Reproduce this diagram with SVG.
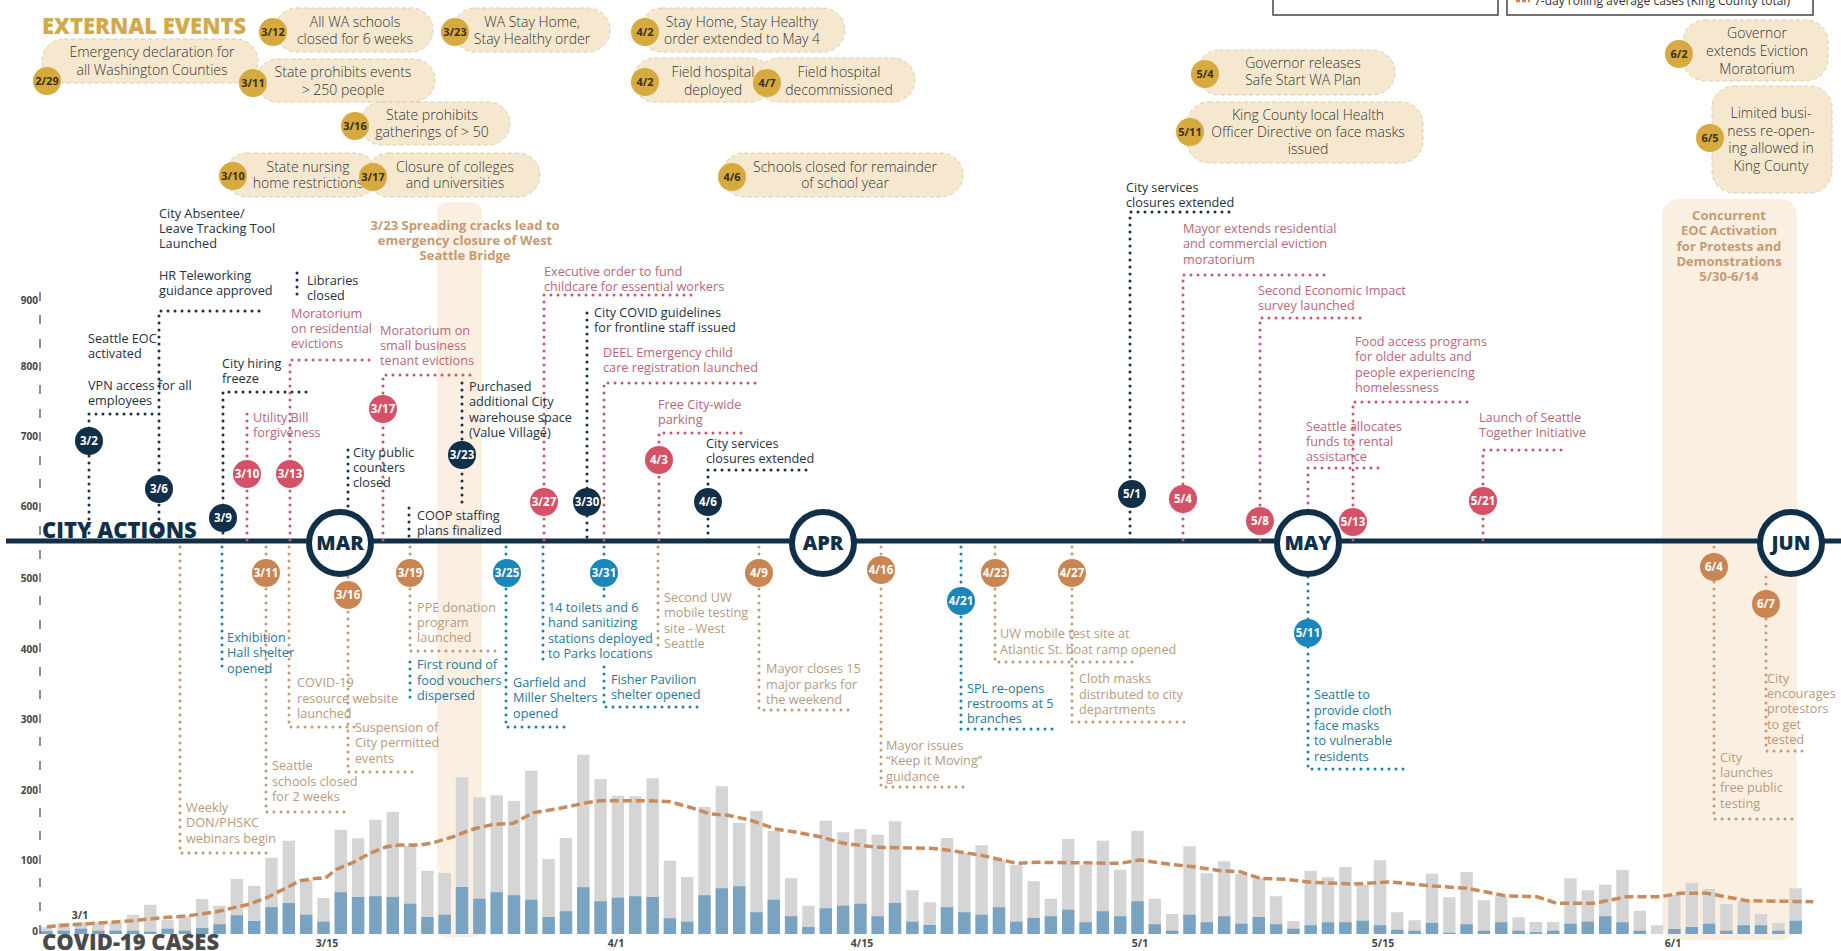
<svg xmlns="http://www.w3.org/2000/svg" width="1841" height="951" viewBox="0 0 1841 951">
<style>
text{font-family:"Open Sans","Liberation Sans",sans-serif}
.pill{fill:#f6e8cf;stroke:#d8ccb2;stroke-width:1;stroke-dasharray:4 3}
.gold{fill:#d6aa3e}
.gd{font-family:"Liberation Sans Narrow","Open Sans",sans-serif;font-weight:700;font-size:11px;fill:#3b2f1c;text-anchor:middle}
.pt{font-size:14px;font-weight:300;fill:#333;text-anchor:middle}
.hd{font-weight:800;font-size:22px}
.band{fill:#fbefe2}
.bt{font-weight:700;font-size:13px;fill:#c69a72;text-anchor:middle}
.dl{fill:none;stroke-width:3;stroke-dasharray:0 7;stroke-linecap:round}
.dn{stroke:#14304a}.dp{stroke:#c9566c}.dt{stroke:#1f80aa}.do{stroke:#c49a74}
.lb{font-size:12.7px}
.tn{fill:#25313d}.tp{fill:#b7677a}.tt{fill:#237a98}.to{fill:#b89a7c}
.cn{fill:#10304a}.cp{fill:#d45168}.ct{fill:#1a86b9}.co{fill:#c98652}
.cd{font-family:"Liberation Sans Narrow","Open Sans",sans-serif;font-weight:700;font-size:11.5px;fill:#fff;text-anchor:middle}
.mon{fill:#fff;stroke:#10304a;stroke-width:6}
.mt{font-weight:800;font-size:20px;fill:#10304a;text-anchor:middle}
.ax{font-weight:700;font-size:10px;fill:#444;text-anchor:end}
.dx{font-weight:700;font-size:10.5px;fill:#444;text-anchor:middle}
</style>
<rect width="1841" height="951" fill="#fff"/>

<!-- background bands -->
<g id="bands">
<rect class="band" x="437" y="202" width="45" height="735" rx="9"/>
<rect class="band" x="1662" y="199" width="135" height="741" rx="16"/>
</g>

<!-- legend (cut off at top) -->
<g id="legend">
<rect x="1273" y="-10" width="225" height="25" fill="none" stroke="#444" stroke-width="1.5"/>
<rect x="1507" y="-10" width="306" height="25" fill="none" stroke="#444" stroke-width="1.5"/>
<line x1="1516" y1="1" x2="1530" y2="1" stroke="#c98b5c" stroke-width="2.5" stroke-dasharray="4 2"/>
<text x="1534" y="5" font-size="12" fill="#333">7-day rolling average cases (King County total)</text>
</g>

<!-- case chart -->
<g id="chart">
<path fill="#d5d5d5" d="M40.2 934V927.3h12.4V934ZM57.5 934V923h12.4V934ZM74.8 934V922.3h12.4V934ZM92.1 934V922.3h12.4V934ZM109.4 934V922.3h12.4V934ZM126.8 934V914.7h12.4V934ZM144.1 934V904.7h12.4V934ZM161.4 934V919.7h12.4V934ZM178.7 934V916.3h12.4V934ZM196 934V899h12.4V934ZM213.4 934V905.7h12.4V934ZM230.7 934V879h12.4V934ZM248 934V885.7h12.4V934ZM265.3 934V857.7h12.4V934ZM282.6 934V840.7h12.4V934ZM300 934V879.7h12.4V934ZM317.3 934V898h12.4V934ZM334.6 934V829.7h12.4V934ZM351.9 934V838.3h12.4V934ZM369.2 934V819.7h12.4V934ZM386.6 934V811.7h12.4V934ZM403.9 934V845.7h12.4V934ZM421.2 934V870.7h12.4V934ZM438.5 934V873h12.4V934ZM455.8 934V777.3h12.4V934ZM473.2 934V797.3h12.4V934ZM490.5 934V795.3h12.4V934ZM507.8 934V800.7h12.4V934ZM525.1 934V770.7h12.4V934ZM542.4 934V859h12.4V934ZM559.8 934V838h12.4V934ZM577.1 934V754.7h12.4V934ZM594.4 934V779h12.4V934ZM611.7 934V795.7h12.4V934ZM629 934V796.3h12.4V934ZM646.4 934V778.3h12.4V934ZM663.7 934V860.7h12.4V934ZM681 934V877h12.4V934ZM698.3 934V807h12.4V934ZM715.6 934V786.3h12.4V934ZM733 934V823h12.4V934ZM750.3 934V811h12.4V934ZM767.6 934V831h12.4V934ZM784.9 934V878.3h12.4V934ZM802.2 934V905.7h12.4V934ZM819.6 934V820.7h12.4V934ZM836.9 934V832.3h12.4V934ZM854.2 934V829h12.4V934ZM871.5 934V834.7h12.4V934ZM888.8 934V821.3h12.4V934ZM906.2 934V890.3h12.4V934ZM923.5 934V902.3h12.4V934ZM940.8 934V838h12.4V934ZM958.1 934V853h12.4V934ZM975.4 934V845.3h12.4V934ZM992.8 934V859.7h12.4V934ZM1010.1 934V865h12.4V934ZM1027.4 934V881.3h12.4V934ZM1044.7 934V898.7h12.4V934ZM1062 934V839h12.4V934ZM1079.4 934V864.7h12.4V934ZM1096.7 934V840.7h12.4V934ZM1114 934V869.7h12.4V934ZM1131.3 934V830.7h12.4V934ZM1148.6 934V898.7h12.4V934ZM1166 934V914h12.4V934ZM1183.3 934V846.3h12.4V934ZM1200.6 934V873.3h12.4V934ZM1217.9 934V861.3h12.4V934ZM1235.2 934V874h12.4V934ZM1252.6 934V878h12.4V934ZM1269.9 934V896.3h12.4V934ZM1287.2 934V921h12.4V934ZM1304.5 934V870.7h12.4V934ZM1321.8 934V877.3h12.4V934ZM1339.2 934V867h12.4V934ZM1356.5 934V884.7h12.4V934ZM1373.8 934V860.3h12.4V934ZM1391.1 934V912.3h12.4V934ZM1408.4 934V920.3h12.4V934ZM1425.8 934V873.7h12.4V934ZM1443.1 934V897.3h12.4V934ZM1460.4 934V872h12.4V934ZM1477.7 934V900.3h12.4V934ZM1495 934V896.3h12.4V934ZM1512.4 934V917.3h12.4V934ZM1529.7 934V922h12.4V934ZM1547 934V922h12.4V934ZM1564.3 934V878.3h12.4V934ZM1581.6 934V890.3h12.4V934ZM1599 934V884.7h12.4V934ZM1616.3 934V869.7h12.4V934ZM1633.6 934V910.7h12.4V934ZM1650.9 934V925.3h12.4V934ZM1668.2 934V894.7h12.4V934ZM1685.6 934V883h12.4V934ZM1702.9 934V889h12.4V934ZM1720.2 934V904h12.4V934ZM1737.5 934V901.3h12.4V934ZM1754.8 934V914h12.4V934ZM1772.2 934V923h12.4V934ZM1789.5 934V888.3h12.4V934Z"/>
<path fill="#7aa3c2" d="M40.2 934V931.3h12.4V934ZM57.5 934V930.7h12.4V934ZM74.8 934V928.7h12.4V934ZM92.1 934V930.7h12.4V934ZM109.4 934V930.7h12.4V934ZM126.8 934V930.7h12.4V934ZM144.1 934V931.7h12.4V934ZM161.4 934V928.7h12.4V934ZM178.7 934V930.7h12.4V934ZM196 934V928h12.4V934ZM213.4 934V924.3h12.4V934ZM230.7 934V915.3h12.4V934ZM248 934V921h12.4V934ZM265.3 934V907.3h12.4V934ZM282.6 934V903h12.4V934ZM300 934V914.7h12.4V934ZM317.3 934V921.7h12.4V934ZM334.6 934V892.3h12.4V934ZM351.9 934V897h12.4V934ZM369.2 934V896.3h12.4V934ZM386.6 934V897h12.4V934ZM403.9 934V903.7h12.4V934ZM421.2 934V917h12.4V934ZM438.5 934V914.7h12.4V934ZM455.8 934V887h12.4V934ZM473.2 934V898.7h12.4V934ZM490.5 934V892.3h12.4V934ZM507.8 934V895.3h12.4V934ZM525.1 934V899.7h12.4V934ZM542.4 934V917h12.4V934ZM559.8 934V911.3h12.4V934ZM577.1 934V887.3h12.4V934ZM594.4 934V901.3h12.4V934ZM611.7 934V897.7h12.4V934ZM629 934V896.3h12.4V934ZM646.4 934V897h12.4V934ZM663.7 934V918.3h12.4V934ZM681 934V921.7h12.4V934ZM698.3 934V895.3h12.4V934ZM715.6 934V888.3h12.4V934ZM733 934V886.3h12.4V934ZM750.3 934V912.3h12.4V934ZM767.6 934V899.7h12.4V934ZM784.9 934V916.3h12.4V934ZM802.2 934V927h12.4V934ZM819.6 934V908.3h12.4V934ZM836.9 934V905.7h12.4V934ZM854.2 934V903.7h12.4V934ZM871.5 934V916.3h12.4V934ZM888.8 934V903h12.4V934ZM906.2 934V921.7h12.4V934ZM923.5 934V925h12.4V934ZM940.8 934V907.3h12.4V934ZM958.1 934V912.3h12.4V934ZM975.4 934V914.7h12.4V934ZM992.8 934V907.3h12.4V934ZM1010.1 934V921.7h12.4V934ZM1027.4 934V918h12.4V934ZM1044.7 934V916.3h12.4V934ZM1062 934V909.7h12.4V934ZM1079.4 934V922.3h12.4V934ZM1096.7 934V911.3h12.4V934ZM1114 934V916.3h12.4V934ZM1131.3 934V901.3h12.4V934ZM1148.6 934V924.3h12.4V934ZM1166 934V930.7h12.4V934ZM1183.3 934V914.7h12.4V934ZM1200.6 934V922.3h12.4V934ZM1217.9 934V916.3h12.4V934ZM1235.2 934V923.7h12.4V934ZM1252.6 934V917h12.4V934ZM1269.9 934V924.3h12.4V934ZM1287.2 934V928.7h12.4V934ZM1304.5 934V925.3h12.4V934ZM1321.8 934V922.3h12.4V934ZM1339.2 934V922.3h12.4V934ZM1356.5 934V920.7h12.4V934ZM1373.8 934V925.3h12.4V934ZM1391.1 934V929.7h12.4V934ZM1408.4 934V930.7h12.4V934ZM1425.8 934V923h12.4V934ZM1443.1 934V932.7h12.4V934ZM1460.4 934V924.3h12.4V934ZM1477.7 934V930.7h12.4V934ZM1495 934V922.3h12.4V934ZM1512.4 934V930.7h12.4V934ZM1529.7 934V932.3h12.4V934ZM1547 934V930.7h12.4V934ZM1564.3 934V923.7h12.4V934ZM1581.6 934V921.7h12.4V934ZM1599 934V916.3h12.4V934ZM1616.3 934V922.3h12.4V934ZM1633.6 934V930.7h12.4V934ZM1668.2 934V929h12.4V934ZM1685.6 934V927h12.4V934ZM1702.9 934V923.7h12.4V934ZM1720.2 934V930.7h12.4V934ZM1737.5 934V925.3h12.4V934ZM1754.8 934V925.3h12.4V934ZM1772.2 934V930.7h12.4V934ZM1789.5 934V920.7h12.4V934Z"/>
<polyline fill="none" stroke="#c98b5c" stroke-width="3.5" stroke-dasharray="9 4" stroke-linejoin="round" points="46.7,926.7 80,924.3 133.3,920.7 166.7,917.3 186.7,916 216.7,911.7 250,904 266.7,897.7 290,886 300,880.7 316.7,878.3 325,878.3 336.7,869.3 353.3,862.3 370,853.3 386.7,846.7 400,845 420,845 433.3,842.7 453.3,836.7 470,830 476.7,828.3 493.3,824.3 513.3,823.3 533.3,812.7 560,808.3 586.7,802.7 600,800.7 646.7,800.7 670,801.7 693.3,808.3 710,814 726.7,815 750,820 776.7,829.3 793.3,831.7 820,836.7 843.3,843.3 876.7,847.3 930,848.3 946.7,850 980,855 1016.7,863.3 1036.7,862.3 1120,863.3 1140,860 1170,864.3 1193.3,866.7 1220,870.7 1240,871.7 1260,878.3 1286.7,879.3 1310,882.3 1353.3,884 1390,882 1433.3,886 1466.7,888.3 1506.7,896 1536.7,896.7 1556.7,903.3 1593.3,903.3 1626.7,896.7 1660,896.7 1680,893.3 1706.7,893.3 1746.7,900.7 1813.3,901.7"/>
<text class="dx" x="80" y="919">3/1</text>
<text class="dx" x="327" y="947">3/15</text>
<text class="dx" x="616" y="947">4/1</text>
<text class="dx" x="862" y="947">4/15</text>
<text class="dx" x="1140" y="947">5/1</text>
<text class="dx" x="1383" y="947">5/15</text>
<text class="dx" x="1673" y="947">6/1</text>
<text class="hd" x="42" y="950" fill="#4a4a4a">COVID-19 CASES</text>
</g>

<!-- y axis -->
<g id="yaxis">
<path fill="none" stroke="#555" stroke-width="1.3" d="M40 925v9M40 902v9M40 878v9M40 855v9M40 831v9M40 808v9M40 784v9M40 761v9M40 737v9M40 714v9M40 690v9M40 667v9M40 643v9M40 620v9M40 596v9M40 573v9M40 550v9M40 526v9M40 503v9M40 479v9M40 456v9M40 432v9M40 409v9M40 385v9M40 362v9M40 339v9M40 315v9M40 292v9"/>
<text class="ax" x="38" y="935">0</text>
<text class="ax" x="38" y="864">100</text>
<text class="ax" x="38" y="794">200</text>
<text class="ax" x="38" y="723">300</text>
<text class="ax" x="38" y="653">400</text>
<text class="ax" x="38" y="582">500</text>
<text class="ax" x="38" y="510">600</text>
<text class="ax" x="38" y="440">700</text>
<text class="ax" x="38" y="370">800</text>
<text class="ax" x="38" y="304">900</text>
</g>

<!-- external events -->
<text class="hd" x="42" y="34" fill="#d4a94a">EXTERNAL EVENTS</text>
<g id="ev-229"><rect class="pill" x="42" y="39" width="216" height="44" rx="22"/><text class="pt" x="152" y="57">Emergency declaration for</text><text class="pt" x="152" y="75">all Washington Counties</text><circle class="gold" cx="47" cy="81" r="14"/><text class="gd" x="47" y="85">2/29</text></g>
<g id="ev-312"><rect class="pill" x="275" y="8" width="158" height="44" rx="22"/><text class="pt" x="355" y="27">All WA schools</text><text class="pt" x="355" y="44">closed for 6 weeks</text><circle class="gold" cx="273" cy="32" r="14"/><text class="gd" x="273" y="36">3/12</text></g>
<g id="ev-311"><rect class="pill" x="256" y="59" width="179" height="43" rx="21.5"/><text class="pt" x="343" y="77">State prohibits events</text><text class="pt" x="343" y="95">&gt; 250 people</text><circle class="gold" cx="253" cy="83" r="14"/><text class="gd" x="253" y="87">3/11</text></g>
<g id="ev-316"><rect class="pill" x="360" y="102" width="150" height="43" rx="21.5"/><text class="pt" x="432" y="120">State prohibits</text><text class="pt" x="432" y="137">gatherings of &gt; 50</text><circle class="gold" cx="355" cy="126" r="14"/><text class="gd" x="355" y="130">3/16</text></g>
<g id="ev-310"><rect class="pill" x="225" y="153" width="152" height="44" rx="22"/><text class="pt" x="308" y="172">State nursing</text><text class="pt" x="308" y="188">home restrictions</text><circle class="gold" cx="233" cy="176" r="14"/><text class="gd" x="233" y="180">3/10</text></g>
<g id="ev-317"><rect class="pill" x="367" y="153" width="173" height="44" rx="22"/><text class="pt" x="455" y="172">Closure of colleges</text><text class="pt" x="455" y="188">and universities</text><circle class="gold" cx="373" cy="177" r="14"/><text class="gd" x="373" y="181">3/17</text></g>
<g id="ev-323"><rect class="pill" x="453" y="8" width="157" height="44" rx="22"/><text class="pt" x="532" y="27">WA Stay Home,</text><text class="pt" x="532" y="44">Stay Healthy order</text><circle class="gold" cx="455" cy="32" r="14"/><text class="gd" x="455" y="36">3/23</text></g>
<g id="ev-402a"><rect class="pill" x="640" y="8" width="205" height="44" rx="22"/><text class="pt" x="742" y="27">Stay Home, Stay Healthy</text><text class="pt" x="742" y="44">order extended to May 4</text><circle class="gold" cx="645" cy="32" r="14"/><text class="gd" x="645" y="36">4/2</text></g>
<g id="ev-402b"><rect class="pill" x="633" y="58" width="140" height="44" rx="22"/><text class="pt" x="713" y="77">Field hospital</text><text class="pt" x="713" y="95">deployed</text><circle class="gold" cx="645" cy="82" r="14"/><text class="gd" x="645" y="86">4/2</text></g>
<g id="ev-407"><rect class="pill" x="757" y="58" width="158" height="44" rx="22"/><text class="pt" x="839" y="77">Field hospital</text><text class="pt" x="839" y="95">decommissioned</text><circle class="gold" cx="767" cy="83" r="14"/><text class="gd" x="767" y="87">4/7</text></g>
<g id="ev-406"><rect class="pill" x="722" y="153" width="241" height="44" rx="22"/><text class="pt" x="845" y="172">Schools closed for remainder</text><text class="pt" x="845" y="188">of school year</text><circle class="gold" cx="732" cy="177" r="14"/><text class="gd" x="732" y="181">4/6</text></g>
<g id="ev-504"><rect class="pill" x="1197" y="50" width="198" height="45" rx="22.5"/><text class="pt" x="1303" y="68">Governor releases</text><text class="pt" x="1303" y="85">Safe Start WA Plan</text><circle class="gold" cx="1205" cy="74" r="14"/><text class="gd" x="1205" y="78">5/4</text></g>
<g id="ev-511"><rect class="pill" x="1187" y="102" width="236" height="61" rx="22"/><text class="pt" x="1308" y="120">King County local Health</text><text class="pt" x="1308" y="137">Officer Directive on face masks</text><text class="pt" x="1308" y="154">issued</text><circle class="gold" cx="1190" cy="132" r="14"/><text class="gd" x="1190" y="136">5/11</text></g>
<g id="ev-602"><rect class="pill" x="1683" y="20" width="145" height="61" rx="22"/><text class="pt" x="1757" y="38">Governor</text><text class="pt" x="1757" y="56">extends Eviction</text><text class="pt" x="1757" y="74">Moratorium</text><circle class="gold" cx="1679" cy="54" r="14"/><text class="gd" x="1679" y="58">6/2</text></g>
<g id="ev-605"><rect class="pill" x="1712" y="86" width="120" height="107" rx="22"/><text class="pt" x="1771" y="118">Limited busi-</text><text class="pt" x="1771" y="136">ness re-open-</text><text class="pt" x="1771" y="153">ing allowed in</text><text class="pt" x="1771" y="171">King County</text><circle class="gold" cx="1710" cy="138" r="14"/><text class="gd" x="1710" y="142">6/5</text></g>

<!-- band notes -->
<g id="note-bridge"><text class="bt" x="465" y="230">3/23 Spreading cracks lead to</text><text class="bt" x="465" y="245">emergency closure of West</text><text class="bt" x="465" y="260">Seattle Bridge</text></g>
<g id="note-eoc"><text class="bt" x="1729" y="220">Concurrent</text><text class="bt" x="1729" y="235">EOC Activation</text><text class="bt" x="1729" y="251">for Protests and</text><text class="bt" x="1729" y="266">Demonstrations</text><text class="bt" x="1729" y="281">5/30-6/14</text></g>

<!-- timeline -->
<g id="timeline">
<rect x="6" y="538.5" width="1835" height="5" fill="#10304a"/>
<text class="hd" x="42" y="538" fill="#10304a">CITY ACTIONS</text>
</g>

<!-- connectors -->
<g id="connectors">
<path class="dl dn" d="M89 540V414H163M159 540V311H263M223 540V392H313M297 273V300M348 450V510M462 383V507M409 508V537M587 313V540M708 540V470H813M1130 540V212H1235"/>
<path class="dl dp" d="M247 540V408M290 540V360H370M383 540V375H473M544 540V295H693M604 540V383H757M659 540V433H742M1183 540V275H1325M1260 540V318H1367M1308 510V468H1383M1353 540V402H1468M1483 540V450H1562"/>
<path class="dl dt" d="M222 547V673M543 547V660M506 547V727H568M410 662V702M604 547V600M604 667V707H702M961 547V729H1057M1308 577V769H1405"/>
<path class="dl do" d="M180 547V853H267M266 547V812H350M289 547V727H355M348 577V772H418M410 547V651H502M658 547V650M759 547V710H850M881 547V787H970M995 547V662H1133M1072 547V722H1185M1714 547V819H1799M1766 577V751H1805"/>
</g>

<!-- month markers -->
<g id="months">
<g id="m-mar"><circle class="mon" cx="340" cy="543" r="31"/><text class="mt" x="340" y="550">MAR</text></g>
<g id="m-apr"><circle class="mon" cx="823" cy="543" r="31"/><text class="mt" x="823" y="550">APR</text></g>
<g id="m-may"><circle class="mon" cx="1308" cy="543" r="31"/><text class="mt" x="1308" y="550">MAY</text></g>
<g id="m-jun"><circle class="mon" cx="1791" cy="543" r="31"/><text class="mt" x="1791" y="550">JUN</text></g>
</g>

<!-- navy actions -->
<g id="a-0302"><circle class="cn" cx="89" cy="441" r="14"/><text class="cd" x="89" y="445">3/2</text><text class="lb tn" x="88" y="390">VPN access for all</text><text class="lb tn" x="88" y="405">employees</text><text class="lb tn" x="88" y="343">Seattle EOC</text><text class="lb tn" x="88" y="358">activated</text></g>
<g id="a-0306"><circle class="cn" cx="159" cy="489" r="14"/><text class="cd" x="159" y="493">3/6</text><text class="lb tn" x="159" y="280">HR Teleworking</text><text class="lb tn" x="159" y="295">guidance approved</text><text class="lb tn" x="159" y="218">City Absentee/</text><text class="lb tn" x="159" y="233">Leave Tracking Tool</text><text class="lb tn" x="159" y="248">Launched</text></g>
<g id="a-0309"><circle class="cn" cx="223" cy="518" r="14"/><text class="cd" x="223" y="522">3/9</text><text class="lb tn" x="222" y="368">City hiring</text><text class="lb tn" x="222" y="383">freeze</text></g>
<g id="a-libraries"><text class="lb tn" x="307" y="285">Libraries</text><text class="lb tn" x="307" y="300">closed</text></g>
<g id="a-counters"><text class="lb tn" x="353" y="457">City public</text><text class="lb tn" x="353" y="472">counters</text><text class="lb tn" x="353" y="487">closed</text></g>
<g id="a-0323"><circle class="cn" cx="462" cy="455" r="14"/><text class="cd" x="462" y="459">3/23</text><text class="lb tn" x="469" y="391">Purchased</text><text class="lb tn" x="469" y="406">additional City</text><text class="lb tn" x="469" y="422">warehouse space</text><text class="lb tn" x="469" y="437">(Value Village)</text></g>
<g id="a-coop"><text class="lb tn" x="417" y="520">COOP staffing</text><text class="lb tn" x="417" y="535">plans finalized</text></g>
<g id="a-0330"><circle class="cn" cx="587" cy="502" r="14"/><text class="cd" x="587" y="506">3/30</text><text class="lb tn" x="594" y="317">City COVID guidelines</text><text class="lb tn" x="594" y="332">for frontline staff issued</text></g>
<g id="a-0406"><circle class="cn" cx="708" cy="502" r="14"/><text class="cd" x="708" y="506">4/6</text><text class="lb tn" x="706" y="448">City services</text><text class="lb tn" x="706" y="463">closures extended</text></g>
<g id="a-0501"><circle class="cn" cx="1132" cy="494" r="14"/><text class="cd" x="1132" y="498">5/1</text><text class="lb tn" x="1126" y="192">City services</text><text class="lb tn" x="1126" y="207">closures extended</text></g>

<!-- pink actions -->
<g id="a-0310"><circle class="cp" cx="247" cy="474" r="14"/><text class="cd" x="247" y="478">3/10</text><text class="lb tp" x="253" y="422">Utility Bill</text><text class="lb tp" x="253" y="437">forgiveness</text></g>
<g id="a-0313"><circle class="cp" cx="290" cy="474" r="14"/><text class="cd" x="290" y="478">3/13</text><text class="lb tp" x="291" y="318">Moratorium</text><text class="lb tp" x="291" y="333">on residential</text><text class="lb tp" x="291" y="348">evictions</text></g>
<g id="a-0317"><circle class="cp" cx="383" cy="409" r="14"/><text class="cd" x="383" y="413">3/17</text><text class="lb tp" x="380" y="335">Moratorium on</text><text class="lb tp" x="380" y="350">small business</text><text class="lb tp" x="380" y="365">tenant evictions</text></g>
<g id="a-0327"><circle class="cp" cx="544" cy="502" r="14"/><text class="cd" x="544" y="506">3/27</text><text class="lb tp" x="544" y="276">Executive order to fund</text><text class="lb tp" x="544" y="291">childcare for essential workers</text></g>
<g id="a-deel"><text class="lb tp" x="603" y="357">DEEL Emergency child</text><text class="lb tp" x="603" y="372">care registration launched</text></g>
<g id="a-0403"><circle class="cp" cx="659" cy="460" r="14"/><text class="cd" x="659" y="464">4/3</text><text class="lb tp" x="658" y="409">Free City-wide</text><text class="lb tp" x="658" y="424">parking</text></g>
<g id="a-0504"><circle class="cp" cx="1183" cy="499" r="14"/><text class="cd" x="1183" y="503">5/4</text><text class="lb tp" x="1183" y="233">Mayor extends residential</text><text class="lb tp" x="1183" y="248">and commercial eviction</text><text class="lb tp" x="1183" y="264">moratorium</text></g>
<g id="a-0508"><circle class="cp" cx="1260" cy="521" r="14"/><text class="cd" x="1260" y="525">5/8</text><text class="lb tp" x="1258" y="295">Second Economic Impact</text><text class="lb tp" x="1258" y="310">survey launched</text></g>
<g id="a-rental"><text class="lb tp" x="1306" y="431">Seattle allocates</text><text class="lb tp" x="1306" y="446">funds to rental</text><text class="lb tp" x="1306" y="461">assistance</text></g>
<g id="a-0513"><circle class="cp" cx="1353" cy="522" r="14"/><text class="cd" x="1353" y="526">5/13</text><text class="lb tp" x="1355" y="346">Food access programs</text><text class="lb tp" x="1355" y="361">for older adults and</text><text class="lb tp" x="1355" y="377">people experiencing</text><text class="lb tp" x="1355" y="392">homelessness</text></g>
<g id="a-0521"><circle class="cp" cx="1483" cy="501" r="14"/><text class="cd" x="1483" y="505">5/21</text><text class="lb tp" x="1479" y="422">Launch of Seattle</text><text class="lb tp" x="1479" y="437">Together Initiative</text></g>

<!-- teal actions -->
<g id="a-exhibition"><text class="lb tt" x="227" y="642">Exhibition</text><text class="lb tt" x="227" y="657">Hall shelter</text><text class="lb tt" x="227" y="673">opened</text></g>
<g id="a-toilets"><text class="lb tt" x="548" y="612">14 toilets and 6</text><text class="lb tt" x="548" y="627">hand sanitizing</text><text class="lb tt" x="548" y="643">stations deployed</text><text class="lb tt" x="548" y="658">to Parks locations</text></g>
<g id="a-vouchers"><text class="lb tt" x="417" y="669">First round of</text><text class="lb tt" x="417" y="685">food vouchers</text><text class="lb tt" x="417" y="700">dispersed</text></g>
<g id="a-0325"><circle class="ct" cx="507" cy="573" r="14"/><text class="cd" x="507" y="577">3/25</text><text class="lb tt" x="513" y="687">Garfield and</text><text class="lb tt" x="513" y="702">Miller Shelters</text><text class="lb tt" x="513" y="718">opened</text></g>
<g id="a-0331"><circle class="ct" cx="604" cy="573" r="14"/><text class="cd" x="604" y="577">3/31</text><text class="lb tt" x="611" y="684">Fisher Pavilion</text><text class="lb tt" x="611" y="699">shelter opened</text></g>
<g id="a-0421"><circle class="ct" cx="961" cy="601" r="14"/><text class="cd" x="961" y="605">4/21</text><text class="lb tt" x="967" y="693">SPL re-opens</text><text class="lb tt" x="967" y="708">restrooms at 5</text><text class="lb tt" x="967" y="723">branches</text></g>
<g id="a-0511"><circle class="ct" cx="1308" cy="633" r="14"/><text class="cd" x="1308" y="637">5/11</text><text class="lb tt" x="1314" y="699">Seattle to</text><text class="lb tt" x="1314" y="715">provide cloth</text><text class="lb tt" x="1314" y="730">face masks</text><text class="lb tt" x="1314" y="745">to vulnerable</text><text class="lb tt" x="1314" y="761">residents</text></g>

<!-- tan actions -->
<g id="a-webinars"><text class="lb to" x="186" y="812">Weekly</text><text class="lb to" x="186" y="827">DON/PHSKC</text><text class="lb to" x="186" y="843">webinars begin</text></g>
<g id="a-0311"><circle class="co" cx="266" cy="573" r="14"/><text class="cd" x="266" y="577">3/11</text><text class="lb to" x="272" y="770">Seattle</text><text class="lb to" x="272" y="786">schools closed</text><text class="lb to" x="272" y="801">for 2 weeks</text></g>
<g id="a-website"><text class="lb to" x="297" y="687">COVID-19</text><text class="lb to" x="297" y="703">resource website</text><text class="lb to" x="297" y="718">launched</text></g>
<g id="a-0316"><circle class="co" cx="348" cy="595" r="14"/><text class="cd" x="348" y="599">3/16</text><text class="lb to" x="355" y="732">Suspension of</text><text class="lb to" x="355" y="747">City permitted</text><text class="lb to" x="355" y="763">events</text></g>
<g id="a-0319"><circle class="co" cx="410" cy="573" r="14"/><text class="cd" x="410" y="577">3/19</text><text class="lb to" x="417" y="612">PPE donation</text><text class="lb to" x="417" y="627">program</text><text class="lb to" x="417" y="642">launched</text></g>
<g id="a-uw2"><text class="lb to" x="664" y="602">Second UW</text><text class="lb to" x="664" y="617">mobile testing</text><text class="lb to" x="664" y="633">site - West</text><text class="lb to" x="664" y="648">Seattle</text></g>
<g id="a-0409"><circle class="co" cx="759" cy="573" r="14"/><text class="cd" x="759" y="577">4/9</text><text class="lb to" x="766" y="673">Mayor closes 15</text><text class="lb to" x="766" y="689">major parks for</text><text class="lb to" x="766" y="704">the weekend</text></g>
<g id="a-0416"><circle class="co" cx="881" cy="570" r="14"/><text class="cd" x="881" y="574">4/16</text><text class="lb to" x="886" y="750">Mayor issues</text><text class="lb to" x="886" y="765">“Keep it Moving”</text><text class="lb to" x="886" y="781">guidance</text></g>
<g id="a-0423"><circle class="co" cx="995" cy="573" r="14"/><text class="cd" x="995" y="577">4/23</text><text class="lb to" x="1000" y="638">UW mobile test site at</text><text class="lb to" x="1000" y="654">Atlantic St. boat ramp opened</text></g>
<g id="a-0427"><circle class="co" cx="1072" cy="573" r="14"/><text class="cd" x="1072" y="577">4/27</text><text class="lb to" x="1079" y="683">Cloth masks</text><text class="lb to" x="1079" y="699">distributed to city</text><text class="lb to" x="1079" y="714">departments</text></g>
<g id="a-0604"><circle class="co" cx="1714" cy="567" r="14"/><text class="cd" x="1714" y="571">6/4</text><text class="lb to" x="1720" y="762">City</text><text class="lb to" x="1720" y="777">launches</text><text class="lb to" x="1720" y="792">free public</text><text class="lb to" x="1720" y="808">testing</text></g>
<g id="a-0607"><circle class="co" cx="1766" cy="604" r="14"/><text class="cd" x="1766" y="608">6/7</text><text class="lb to" x="1767" y="683">City</text><text class="lb to" x="1767" y="698">encourages</text><text class="lb to" x="1767" y="713">protestors</text><text class="lb to" x="1767" y="729">to get</text><text class="lb to" x="1767" y="744">tested</text></g>
</svg>
